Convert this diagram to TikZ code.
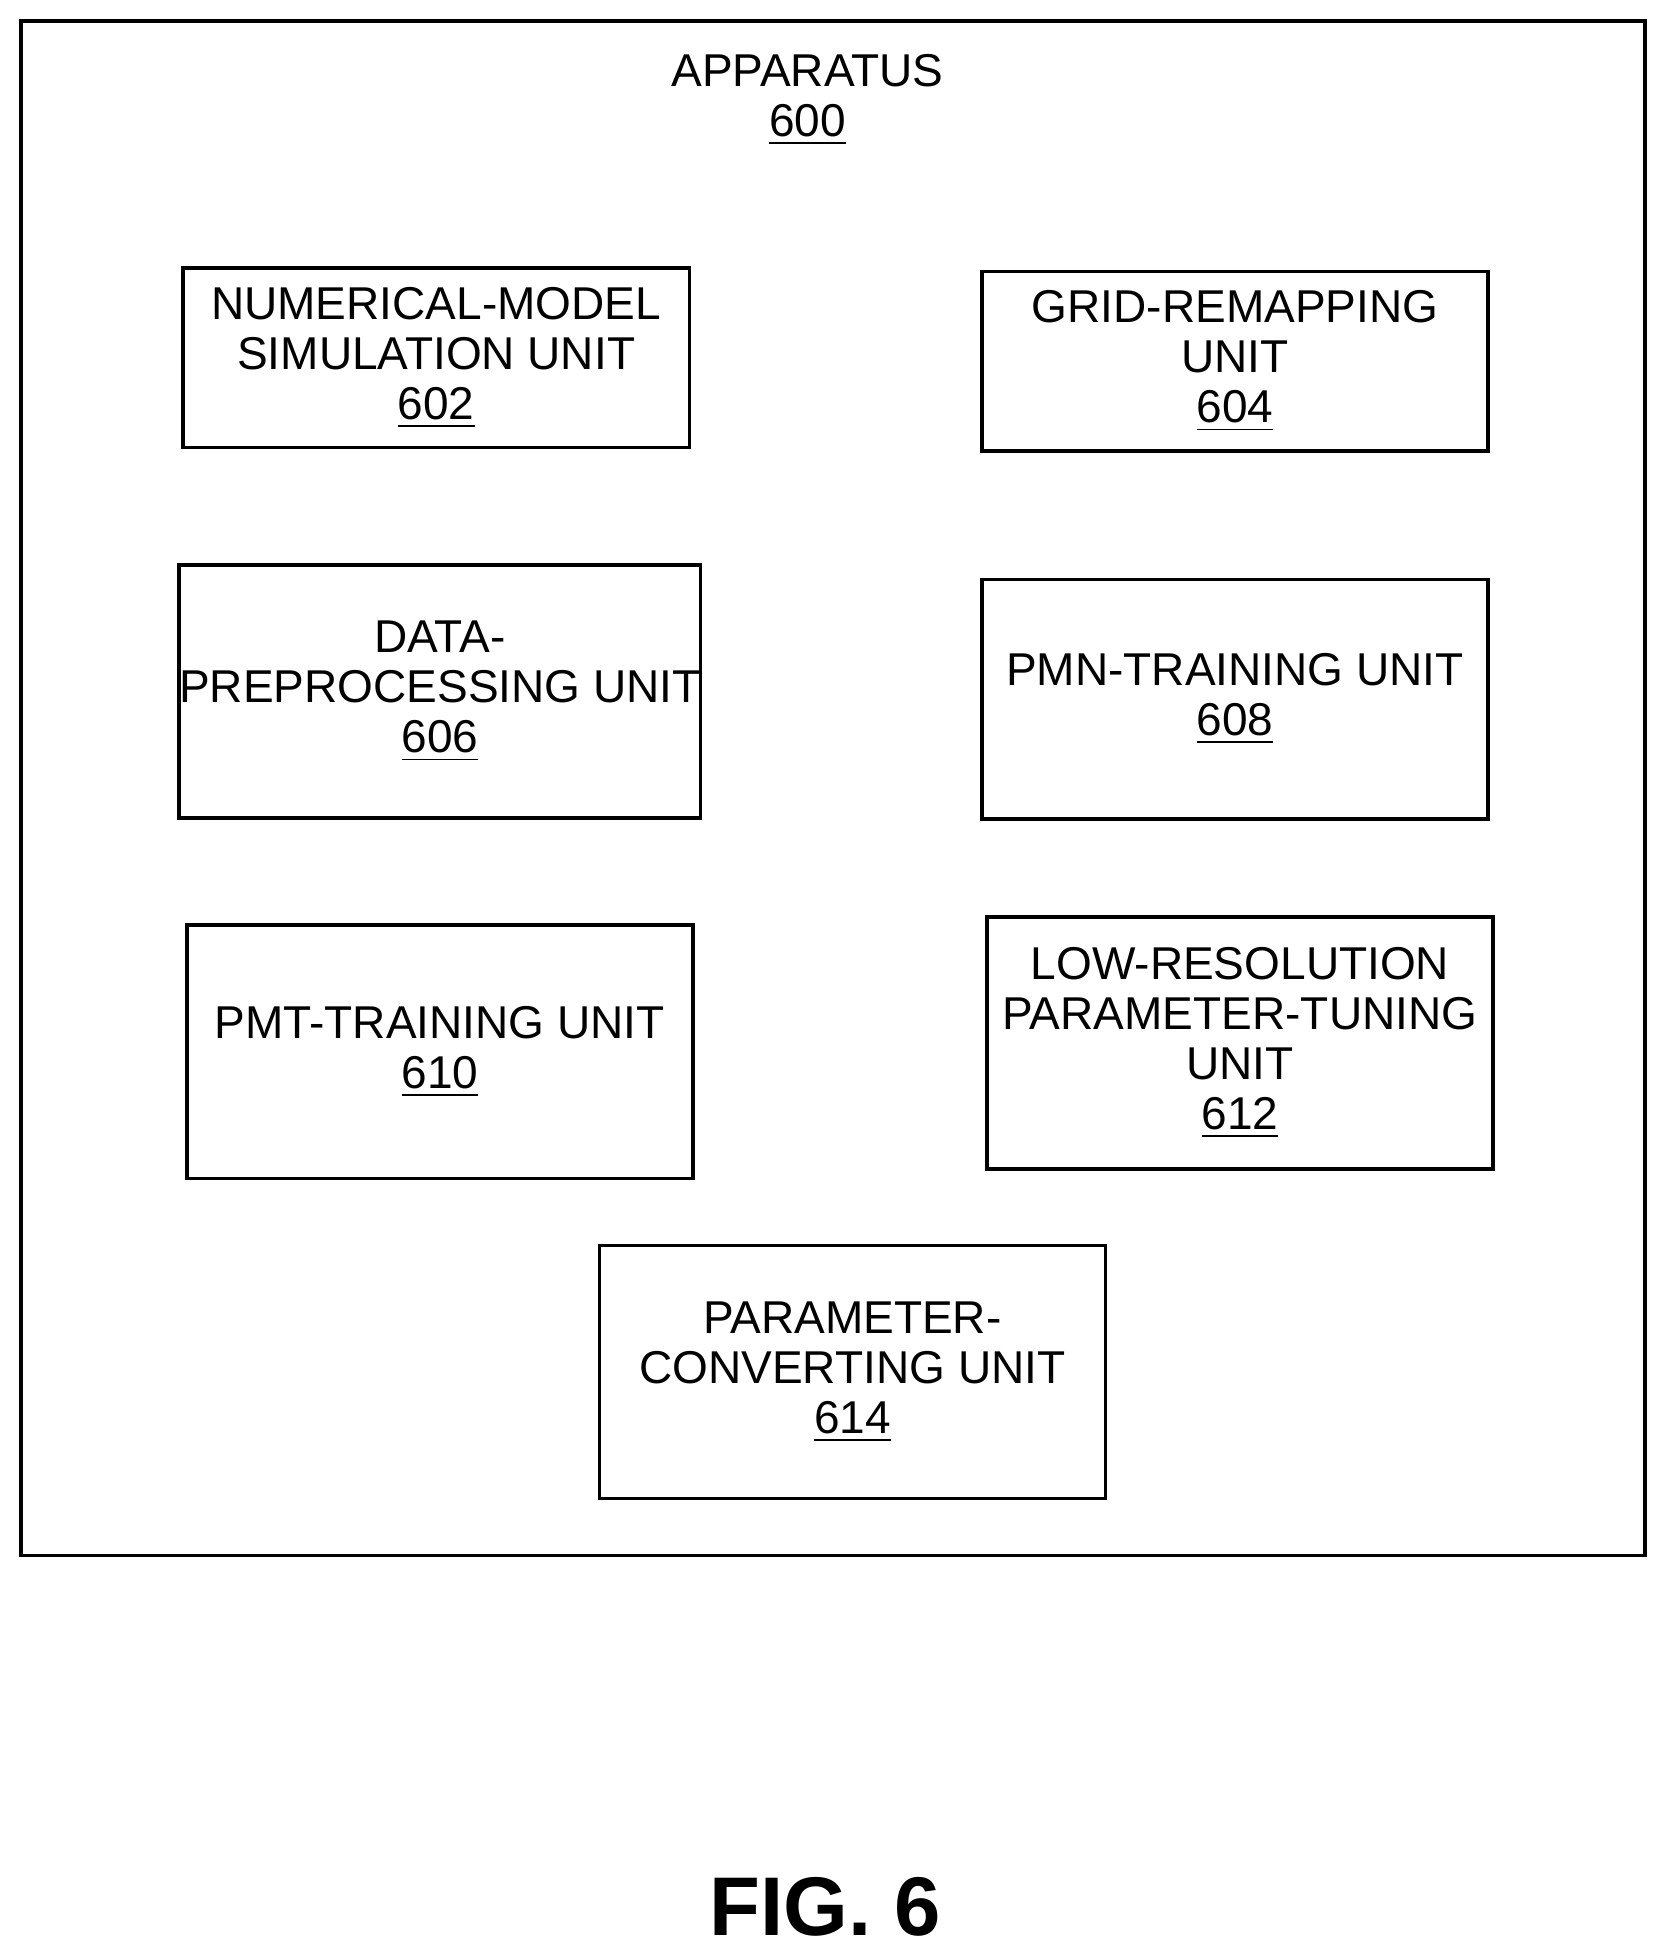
\documentclass[tikz,border=0pt]{standalone}
\usepackage{fontspec}
\setmainfont{Liberation Sans}
\usetikzlibrary{positioning}

\begin{document}
\begin{tikzpicture}[x=0.01cm,y=-0.01cm,
	  every node/.style={align=center,font=\fontsize{10.5}{11.4}\selectfont},
	  unit/.style={draw,thick,minimum width=4.06cm,inner sep=0pt},
	  short/.style={unit,minimum height=1.44cm},
	  tall/.style={unit,minimum height=2.03cm}]

	  \useasboundingbox (0,0) rectangle (1340,1572);
	  \draw[thick] (17,17) rectangle (1320,1248);

	  % Position the nodes at coordinates
	  \node (apparatus) at (648,80) {APPARATUS\\\underline{600}};
	  \node[short] (simulation) at (350,287) {NUMERICAL-MODEL\\SIMULATION UNIT\\\underline{602}};
	  \node[short] (remapping) at (991,290) {GRID-REMAPPING\\UNIT\\\underline{604}};
	  \node[tall] (preprocessing) at (353,555) {DATA-\\PREPROCESSING UNIT\\\underline{606}};
	  \node[tall,minimum height=1.92cm] (pmn) at (991,561) {PMN-TRAINING UNIT\\\underline{608}};
	  \node[tall] (pmt) at (353,844) {PMT-TRAINING UNIT\\\underline{610}};
	  \node[tall,minimum height=2.02cm] (tuning) at (995,837) {LOW-RESOLUTION\\PARAMETER-TUNING\\UNIT\\\underline{612}};
	  \node[tall] (converting) at (684,1101) {PARAMETER-\\CONVERTING UNIT\\\underline{614}};
	  \node[font=\fontsize{19}{22}\selectfont\bfseries] (fig) at (662,1530) {FIG. 6};

\end{tikzpicture}
\end{document}
